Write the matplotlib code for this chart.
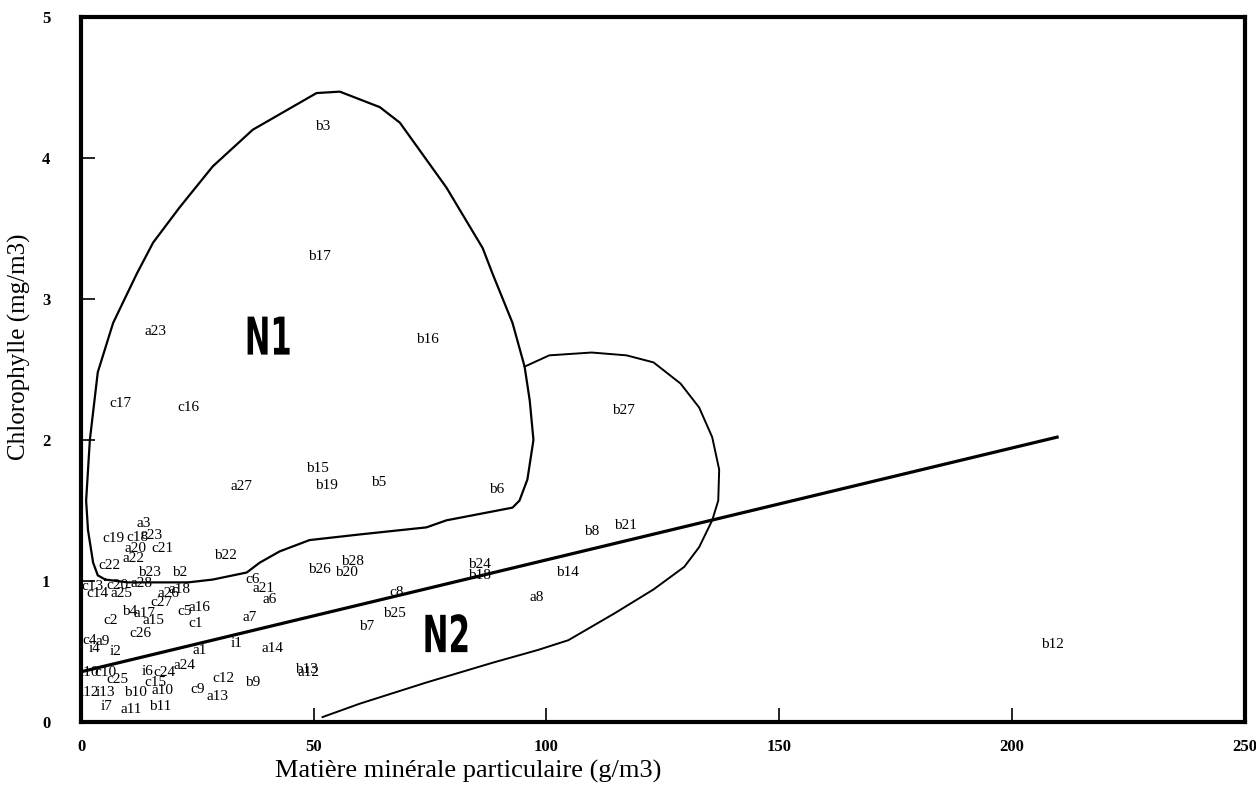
import matplotlib
matplotlib.use("Agg")
import matplotlib.pyplot as plt
from matplotlib.textpath import TextPath
from matplotlib.patches import PathPatch
from matplotlib.font_manager import FontProperties
from matplotlib import transforms

# --- Sample labels and coordinates (MMP g/m3, Chl mg/m3) ---
labels = ["b3", "b17", "a23", "b16", "c17", "c16", "b27", "b15", "b19", "b5",
          "a27", "b6", "b8", "b21", "b14", "b24", "b18", "a8", "b12", "b26",
          "b20", "b28", "c8", "b25", "b7", "a14", "b13", "a12", "b9", "c12",
          "a13", "c9", "i1", "a1", "a24", "a7", "a6", "a21", "c6", "b22",
          "b2", "b23", "c22", "a22", "a20", "c21", "c19", "c18", "c23", "a3",
          "c13", "c20", "a28", "c14", "a25", "a26", "a18", "c27", "c5", "a16",
          "c1", "b4", "a17", "a15", "c2", "c26", "c4", "a9", "i4", "i2",
          "i10", "c10", "c25", "i6", "c24", "c15", "i12", "i13", "b10", "a10",
          "i7", "a11", "b11"]
mmp = [51.9, 51.3, 16.1, 74.5, 8.4, 23.0, 116.5, 50.9, 52.8, 63.9,
       34.5, 89.3, 109.7, 117.0, 104.5, 85.6, 85.6, 97.9, 208.8, 51.3,
       57.1, 58.4, 67.8, 67.4, 61.4, 41.2, 48.5, 48.9, 36.9, 30.5,
       29.4, 25.1, 33.5, 25.5, 22.3, 36.3, 40.6, 39.1, 36.9, 31.1,
       21.2, 14.8, 6.2, 11.2, 11.6, 17.6, 6.9, 12.2, 15.2, 13.5,
       2.4, 7.9, 13.1, 3.6, 8.8, 18.7, 21.2, 17.2, 22.3, 25.5,
       24.7, 10.5, 13.7, 15.5, 6.4, 12.7, 1.9, 4.7, 3.0, 7.5,
       1.9, 5.2, 7.9, 14.2, 18.0, 15.9, 1.9, 5.2, 11.8, 17.6,
       5.4, 10.7, 17.0]
chl = [4.22, 3.30, 2.77, 2.71, 2.26, 2.23, 2.21, 1.80, 1.68, 1.70,
       1.67, 1.65, 1.35, 1.39, 1.06, 1.12, 1.04, 0.88, 0.55, 1.08,
       1.06, 1.14, 0.92, 0.77, 0.68, 0.52, 0.37, 0.35, 0.28, 0.31,
       0.18, 0.23, 0.56, 0.51, 0.40, 0.74, 0.87, 0.95, 1.01, 1.18,
       1.06, 1.06, 1.11, 1.16, 1.23, 1.23, 1.30, 1.31, 1.32, 1.41,
       0.96, 0.97, 0.98, 0.91, 0.91, 0.91, 0.94, 0.85, 0.78, 0.81,
       0.70, 0.78, 0.77, 0.72, 0.72, 0.63, 0.58, 0.57, 0.52, 0.50,
       0.35, 0.35, 0.30, 0.36, 0.35, 0.28, 0.21, 0.21, 0.21, 0.22,
       0.11, 0.085, 0.11]

# --- Group envelopes ---
n1_x = [5.2, 3.6, 2.6, 1.5, 1.1, 1.9, 3.6, 6.9, 12.0, 15.5, 21.2, 28.3, 36.9,
        50.6, 55.6, 64.2, 68.5, 78.5, 86.3, 88.4, 92.7, 95.3, 96.4, 97.2,
        95.9, 94.2, 92.7, 78.5, 74.2, 59.9, 49.1, 42.7, 38.4, 35.6, 28.3,
        23.0, 10.1, 5.2]
n1_y = [1.01, 1.04, 1.13, 1.36, 1.57, 2.00, 2.48, 2.83, 3.18, 3.40, 3.65, 3.94,
        4.20, 4.46, 4.47, 4.36, 4.25, 3.79, 3.36, 3.18, 2.83, 2.52, 2.28, 2.00,
        1.72, 1.57, 1.52, 1.43, 1.38, 1.33, 1.29, 1.21, 1.13, 1.06, 1.01,
        0.99, 0.99, 1.01]
n2_x = [95.3, 100.6, 109.7, 117.2, 123.0, 128.8, 132.8, 135.6, 137.1, 136.9,
        135.6, 132.8, 129.6, 123.0, 114.6, 104.7, 98.1, 88.4, 74.2, 59.9, 51.9]
n2_y = [2.52, 2.60, 2.62, 2.60, 2.55, 2.40, 2.23, 2.02, 1.79, 1.57,
        1.43, 1.24, 1.10, 0.94, 0.77, 0.58, 0.51, 0.42, 0.28, 0.13, 0.035]

# regression line end points
reg_x = [0.5, 209.7]
reg_y = [0.36, 2.02]

groups = ["N1", "N2"]
group_x = [40.3, 78.5]
group_y = [2.74, 0.63]


def tall_text(ax, x, y, s, w_px, h_px):
    """Condensed bold lettering: text path squeezed to a given pixel box."""
    fp = FontProperties(family="DejaVu Sans", weight="bold")
    tp = TextPath((0, 0), s, size=1, prop=fp)
    ext = tp.get_extents()
    tr = (transforms.Affine2D()
          .translate(-(ext.x0 + ext.x1) / 2, -(ext.y0 + ext.y1) / 2)
          .scale(w_px / ext.width, h_px / ext.height)
          + transforms.ScaledTranslation(x, y, ax.transData))
    ax.add_patch(PathPatch(tp, transform=tr, color="black", lw=0))


fig = plt.figure(figsize=(12.56, 7.94), dpi=100)
ax = fig.add_axes([0.0645, 0.0907, 0.9265, 0.888])

ax.plot(n1_x, n1_y, color="black", lw=1.6)
ax.plot(n2_x, n2_y, color="black", lw=1.4)
ax.plot(reg_x, reg_y, color="black", lw=2.3)

for lab, x, y in zip(labels, mmp, chl):
    ax.text(x, y, lab, ha="center", va="center", fontsize=11,
            family="Liberation Serif")

for g, x, y in zip(groups, group_x, group_y):
    tall_text(ax, x, y, g, 42, 38)

ax.set_xlim(0, 250)
ax.set_ylim(0, 5)
ax.set_xticks([0, 50, 100, 150, 200, 250])
ax.set_yticks([0, 1, 2, 3, 4, 5])
ax.tick_params(direction="in", length=10, width=1.2, labelsize=12)
ax.tick_params(axis="y", pad=22)
ax.tick_params(axis="x", pad=12)
for t in ax.get_xticklabels() + ax.get_yticklabels():
    t.set_family("Liberation Serif")
    t.set_fontweight("bold")
for s in ax.spines.values():
    s.set_linewidth(3)

ax.text(0.333, -0.07, "Matière minérale particulaire (g/m3)", transform=ax.transAxes,
        ha="center", va="center", fontsize=19, family="Liberation Serif")
ax.text(-0.053, 0.532, "Chlorophylle (mg/m3)", transform=ax.transAxes,
        ha="center", va="center", rotation=90, fontsize=18,
        family="Liberation Serif")

fig.savefig("out.png", dpi=100)
